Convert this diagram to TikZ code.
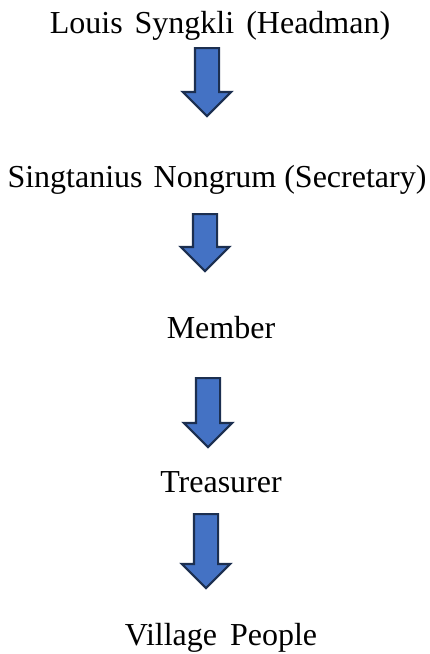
\documentclass[tikz,border=0pt]{standalone}
\usepackage{fontspec}
\setmainfont{Liberation Serif}
\usetikzlibrary{shapes.arrows}
\definecolor{arrowblue}{HTML}{4472C4}
\definecolor{arrowedge}{HTML}{1C2F50}
\tikzset{
x=1pt, y=-1pt, % pixel-like units, y runs downwards
level/.style={anchor=base, inner sep=0pt, font=\fontsize{32}{38}\selectfont}, % the names in the chain
downarrow/.style={shape=single arrow, rotate=-90, anchor=tail, draw=arrowedge, line width=2.2pt,
  fill=arrowblue, inner xsep=0pt, inner ysep=11pt, single arrow head extend=12pt,
  single arrow tip angle=90, minimum height=#1}, % block arrow, length as value
}
\begin{document}
\begin{tikzpicture}
    \useasboundingbox (0,0) rectangle (430,654);
    \node[level] (head) at (220,33) {Louis\hspace{4pt} Syngkli\hspace{4pt} (Headman)};
    \node[level] (secr) at (217,187) {Singtanius\hspace{3pt} Nongrum (Secretary)};
    \node[level] (memb) at (221,338) {Member};
    \node[level] (treas) at (221,492) {Treasurer};
    \node[level] (vill) at (221,645) {Village\hspace{5pt} People};
    \node[downarrow=68pt] (a1) at (207,47) {};
    \node[downarrow=57pt] (a2) at (205,213) {};
    \node[downarrow=69pt] (a3) at (208,377) {};
    \node[downarrow=74pt] (a4) at (206,513) {};
  \end{tikzpicture}
\end{document}
